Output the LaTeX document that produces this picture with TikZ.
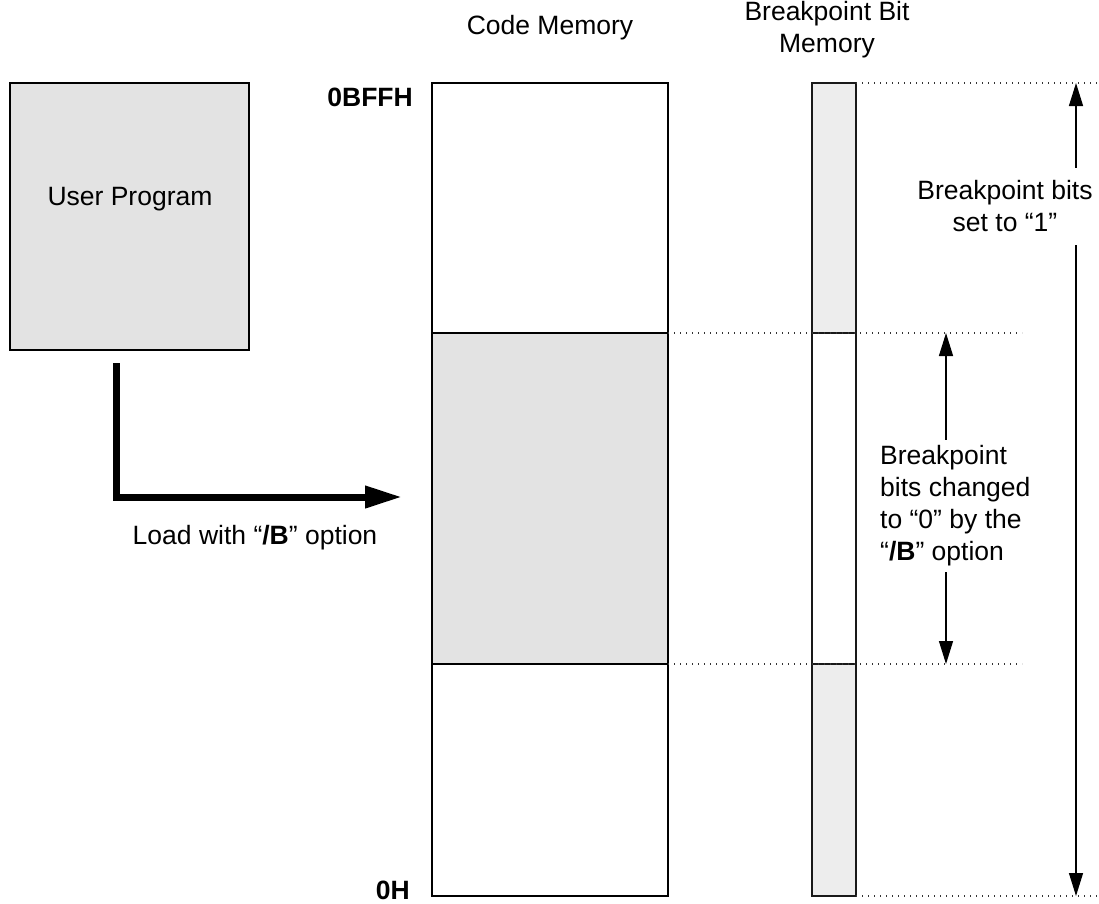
\documentclass[tikz,border=0pt]{standalone}
\usepackage{fontspec}
\setmainfont{Liberation Sans}
\usetikzlibrary{arrows.meta,positioning}

\begin{document}
\begin{tikzpicture}[
    x=1pt, y=-1pt,
    every node/.style={font=\fontsize{26.5}{32}\selectfont, inner sep=0pt},
    membox/.style={draw=black, line width=2.5pt, inner sep=0pt, outer sep=0pt,
                   minimum width=236pt},
    bitbox/.style={draw=black!90, line width=2.5pt, inner sep=0pt, outer sep=0pt,
                   minimum width=44pt},
    progbox/.style={draw=black, fill=black!11, line width=2.5pt,
                    minimum width=239pt, minimum height=267pt},
    addr/.style={anchor=east, font=\fontsize{26.5}{32}\selectfont\bfseries},
    dimarrow/.style={-{Triangle[length=23pt,width=14pt]}, line width=1.3pt},
    loadarrow/.style={-{Triangle[length=37pt,width=21pt]}, line width=7pt},
    guide/.style={line width=1.1pt, dash pattern=on 1.3pt off 4.7pt, draw=black!80},
]
\useasboundingbox (0,0) rectangle (1099,903);

% Code memory column (top to bottom)
\node[membox, minimum height=250pt] (cmtop) at (550,208) {};
\node[membox, minimum height=331pt, fill=black!11] (cmmid) [below=0pt of cmtop] {};
\node[membox, minimum height=232pt] (cmbot) [below=0pt of cmmid] {};

% Breakpoint bit column (top to bottom)
\node[bitbox, minimum height=250pt, fill=black!7] (bittop) [right=144pt of cmtop] {};
\node[bitbox, minimum height=331pt, fill=white]   (bitmid) [below=0pt of bittop] {};
\node[bitbox, minimum height=232pt, fill=black!7] (bitbot) [below=0pt of bitmid] {};

% Headers and addresses
\node (cmhead) at (550,28) {Code Memory};
\node[align=center] (bithead) at (827,30) {Breakpoint Bit\\Memory};
\node[addr] (addrtop) at (413,97)    {0BFFH};
\node[addr] (addrbot) at (410,890.5) {0H};

% User program and load arrow
\node[progbox] (userprog) at (129.5,216.5) {};
\node (userlabel) at (130,199.5) {User Program};
\coordinate (loadstart) at (116,363);
\coordinate (loadend)   at (402,497);
\draw[loadarrow] (loadstart) |- (loadend);
\node (loadlabel) at (255,538) {Load with “\textbf{/B}” option};

% Dotted guide lines
\coordinate (topend)    at (1097,83);
\coordinate (midtopend) at (1022,333);
\coordinate (midbotend) at (1022,664);
\coordinate (botend)    at (1097,896);
\draw[guide] (bittop.north east) -- (topend);
\draw[guide] (cmmid.north east)  -- (midtopend);
\draw[guide] (cmmid.south east)  -- (midbotend);
\draw[guide] (bitbot.south east) -- (botend);

% Breakpoint bits set to 1 (whole range)
\coordinate (settop) at (1076,83);
\coordinate (setbot) at (1076,896);
\node[align=center, minimum height=77pt] (setlabel) at (1005,206.5)
     {Breakpoint bits\\set to “1”};
\draw[dimarrow] (setlabel.north -| settop) -- (settop);
\draw[dimarrow] (setlabel.south -| setbot) -- (setbot);

% Breakpoint bits changed by /B (loaded range)
\coordinate (chgtop) at (946,333);
\coordinate (chgbot) at (946,664);
\node[align=left, anchor=west, minimum height=132pt] (chglabel) at (880,506)
     {Breakpoint\\bits changed\\to “0” by the\\“\textbf{/B}” option};
\draw[dimarrow] (chglabel.north -| chgtop) -- (chgtop);
\draw[dimarrow] (chglabel.south -| chgbot) -- (chgbot);
\end{tikzpicture}
\end{document}
